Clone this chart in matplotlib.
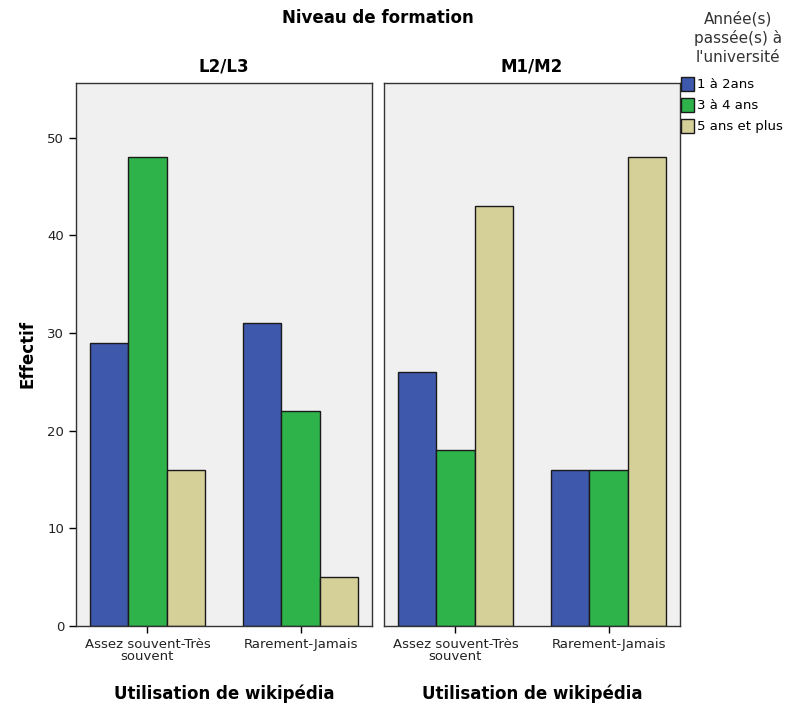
import numpy as np
import matplotlib.pyplot as plt
from matplotlib.patches import Patch

panels = ["L2/L3", "M1/M2"]
categories = ["Assez souvent-Très\nsouvent", "Rarement-Jamais"]
series = ["1 à 2ans", "3 à 4 ans", "5 ans et plus"]
colors = ["#3E58AC", "#2DB34A", "#D5CF98"]

# values[panel][series][category]
l2l3 = [[29, 31], [48, 22], [16, 5]]
m1m2 = [[26, 16], [18, 16], [43, 48]]
values = [l2l3, m1m2]

fig = plt.figure(figsize=(7.95, 7.08), dpi=100)
plt.rcParams['font.family'] = ['DejaVu Sans']

lefts = [76 / 795, 384 / 795]
bottom = 1 - 626 / 708
width = 296 / 795
height = (626 - 83) / 708

x = np.arange(len(categories))
w = 0.25
axes = []
for i, (name, vals) in enumerate(zip(panels, values)):
    ax = fig.add_axes([lefts[i], bottom, width, height])
    ax.set_facecolor("#F0F0F0")
    for j, s in enumerate(series):
        ax.bar(x + (j - 1) * w, vals[j], width=w, color=colors[j],
               edgecolor="#1a1a1a", linewidth=1)
    ax.set_xlim(-0.467, 1.467)
    ax.set_ylim(0, 55.6)
    ax.set_xticks(x)
    ax.set_xticklabels(categories, fontsize=9.5, color="#222222", linespacing=0.95)
    ax.tick_params(axis="x", length=5, width=1, direction="out")
    ax.set_title(name, fontsize=12, fontweight="bold", pad=8)
    ax.set_xlabel("Utilisation de wikipédia", fontsize=12, fontweight="bold", labelpad=15)
    if i == 0:
        ax.set_yticks([0, 10, 20, 30, 40, 50])
        ax.tick_params(axis="y", length=5, width=1, direction="out", labelsize=9.5,
                       labelcolor="#222222")
        ax.set_ylabel("Effectif", fontsize=12, fontweight="bold", labelpad=8)
    else:
        ax.set_yticks([])
    for sp in ax.spines.values():
        sp.set_color("#333333")
        sp.set_linewidth(1)
    axes.append(ax)

fig.text(378 / 795, 1 - 18 / 708, "Niveau de formation", ha="center", va="center",
         fontsize=12, fontweight="bold")

fig.text(738 / 795, 1 - 38 / 708, "Année(s)\npassée(s) à\nl'université", ha="center",
         va="center", fontsize=11, color="#333333", linespacing=1.3)
handles = [Patch(facecolor=c, edgecolor="#1a1a1a", label=s) for c, s in zip(colors, series)]
fig.legend(handles=handles, loc="upper left", bbox_to_anchor=(681 / 795, 1 - 77 / 708),
           frameon=False, fontsize=9.5, handlelength=0.95, handleheight=1.25,
           handletextpad=0.25, labelspacing=0.5, borderaxespad=0, borderpad=0)

fig.savefig("out.png", dpi=100)
